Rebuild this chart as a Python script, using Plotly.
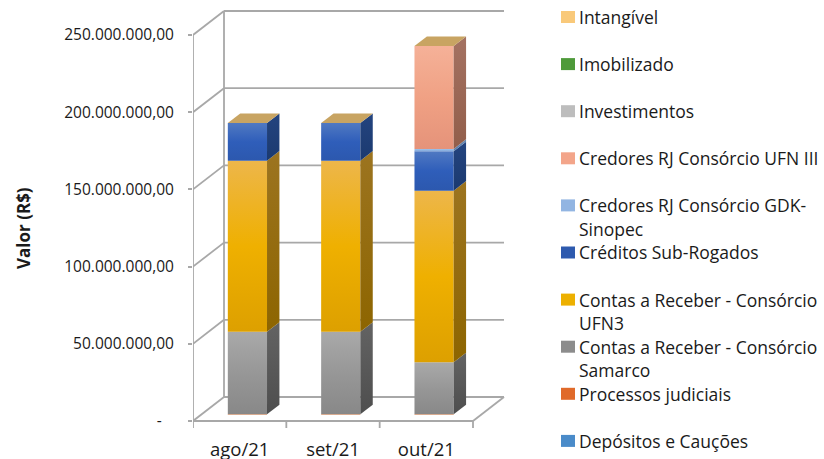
import plotly.graph_objects as go

# ---------------- data ----------------
months = ["ago/21", "set/21", "out/21"]
series_names = [
    "Depósitos e Cauções",
    "Processos judiciais",
    "Contas a Receber - Consórcio Samarco",
    "Contas a Receber - Consórcio UFN3",
    "Créditos Sub-Rogados",
    "Credores RJ Consórcio GDK-Sinopec",
    "Credores RJ Consórcio UFN III",
    "Investimentos",
    "Imobilizado",
    "Intangível",
]
depositos = [0, 0, 0]
processos = [500_000, 500_000, 500_000]
samarco = [53_400_000, 53_400_000, 33_600_000]
ufn3 = [110_800_000, 110_800_000, 111_200_000]
creditos = [24_400_000, 24_400_000, 25_500_000]
gdk = [0, 0, 1_500_000]
ufn_iii = [0, 0, 66_700_000]
investimentos = [0, 0, 0]
imobilizado = [0, 0, 0]
intangivel = [0, 0, 0]
series_values = [depositos, processos, samarco, ufn3, creditos, gdk, ufn_iii,
                 investimentos, imobilizado, intangivel]

y_tick_vals = [0, 50e6, 100e6, 150e6, 200e6, 250e6]
y_tick_text = ["-\u00a0\u00a0\u00a0", "50.000.000,00", "100.000.000,00", "150.000.000,00",
               "200.000.000,00", "250.000.000,00"]

# legend order (top to bottom) and wrapping as in the picture
legend_lines = [
    ("Intangível", None),
    ("Imobilizado", None),
    ("Investimentos", None),
    ("Credores RJ Consórcio UFN III", None),
    ("Credores RJ Consórcio GDK-", "Sinopec"),
    ("Créditos Sub-Rogados", None),
    ("Contas a Receber - Consórcio", "UFN3"),
    ("Contas a Receber - Consórcio", "Samarco"),
    ("Processos judiciais", None),
    ("Depósitos e Cauções", None),
]

# ---------------- styles ----------------
# front gradient (bottom, middle, top), side gradient (bottom, top), legend colour
styles = {
    "Depósitos e Cauções": (("#3F7DBA", "#4A8BC9", "#6FA3D6"), ("#2A5884", "#33689A"), "#4A8BC9"),
    "Processos judiciais": (("#F0A070", "#F0A070", "#F0A070"), ("#D27A40", "#D27A40"), "#E06A2A"),
    "Contas a Receber - Consórcio Samarco": (("#888888", "#979797", "#A9A9A9"), ("#4E4E4E", "#636363"), "#8C8C8C"),
    "Contas a Receber - Consórcio UFN3": (("#DDA000", "#EFB000", "#EDB64A"), ("#8D6500", "#9C7420"), "#EDB000"),
    "Créditos Sub-Rogados": (("#2C58AE", "#2F5EBA", "#5079C2"), ("#1B3A70", "#24447F"), "#2E5AAE"),
    "Credores RJ Consórcio GDK-Sinopec": (("#86ACDD", "#8DB3E2", "#A4C3EA"), ("#5A7CA8", "#6688B2"), "#92B5E2"),
    "Credores RJ Consórcio UFN III": (("#E5937A", "#F0A184", "#F5B198"), ("#925E4A", "#A47262"), "#F3A58A"),
    "Investimentos": (("#AAAAAA", "#BDBDBD", "#CFCFCF"), ("#707070", "#808080"), "#BDBDBD"),
    "Imobilizado": (("#45892F", "#4E9A3A", "#6AAE55"), ("#2E5E20", "#386C28"), "#4E9A3A"),
    "Intangível": (("#F5C070", "#F9C97A", "#FCD898"), ("#A88440", "#B8944E"), "#F9C97A"),
}
top_face_color = "#C8A462"
grid_color = "#A8A8A8"
text_color = "#1A1A1A"
font_family = "Open Sans"

# ---------------- geometry (pixel calibration) ----------------
W, H = 824, 459
left_px, right_px = 193, 530
top_px, bottom_px = 5, 430
front_left_px, front_right_px = 193, 473
zero_px, top_tick_px = 421, 35
VPX = 250e6 / (zero_px - top_tick_px)       # value per pixel
XPX = 3.0 / (front_right_px - front_left_px)  # category units per pixel
DX = 31 * XPX        # depth vector (full depth)
DY = 24 * VPX
x_range = [0, (right_px - left_px) * XPX]
y_range = [-(bottom_px - zero_px) * VPX, (zero_px - top_px) * VPX]

F0, F1 = 0.25, 0.65   # bar front / back depth fraction
HW = 0.21             # half width of bar


def P(x, v, f):
    return x + f * DX, v + f * DY


fig = go.Figure()


def poly(points, colors=None, solid=None):
    xs = [p[0] for p in points] + [points[0][0]]
    ys = [p[1] for p in points] + [points[0][1]]
    kw = dict(x=xs, y=ys, mode="lines", fill="toself", line=dict(width=0),
              hoverinfo="skip", showlegend=False)
    if colors is not None:
        if len(colors) == 3:
            cs = [[0, colors[0]], [0.5, colors[1]], [1, colors[2]]]
        else:
            cs = [[0, colors[0]], [1, colors[1]]]
        kw["fillgradient"] = dict(type="vertical", colorscale=cs)
        kw["fillcolor"] = colors[1]
    else:
        kw["fillcolor"] = solid
    fig.add_trace(go.Scatter(**kw))


def lines(segs, color=grid_color, width=1.8):
    xs, ys = [], []
    for a, b in segs:
        xs += [a[0], b[0], None]
        ys += [a[1], b[1], None]
    fig.add_trace(go.Scatter(x=xs, y=ys, mode="lines", line=dict(color=color, width=width),
                             hoverinfo="skip", showlegend=False))


# walls, floor and grid
n = len(months)
segs = []
for v in y_tick_vals:
    segs.append((P(0, v, 0), P(0, v, 1)))
    segs.append((P(0, v, 1), P(n, v, 1)))
segs.append((P(0, 0, 0), P(0, y_tick_vals[-1], 0)))
segs.append((P(0, 0, 1), P(0, y_tick_vals[-1], 1)))
segs.append((P(0, 0, 0), P(n, 0, 0)))
segs.append((P(n, 0, 0), P(n, 0, 1)))
tick_len = 7 * VPX
for k in range(n + 1):
    segs.append(((k, 0), (k, -tick_len)))
lines(segs)

# bars
for i in range(n):
    c = i + 0.5
    base = 0.0
    for name, vals in zip(series_names, series_values):
        v = vals[i]
        if v <= 0:
            continue
        front, side, _ = styles[name]
        v0, v1 = base, base + v
        poly([P(c - HW, v0, F0), P(c + HW, v0, F0), P(c + HW, v1, F0), P(c - HW, v1, F0)], colors=front)
        poly([P(c + HW, v0, F0), P(c + HW, v0, F1), P(c + HW, v1, F1), P(c + HW, v1, F0)], colors=side)
        base = v1
    poly([P(c - HW, base, F0), P(c + HW, base, F0), P(c + HW, base, F1), P(c - HW, base, F1)],
         solid=top_face_color)


# ---------------- legend (manual, as in the picture) ----------------
def px_to_paper_x(px):
    return (px - left_px) / (right_px - left_px)


def px_to_paper_y(py):
    return (bottom_px - py) / (bottom_px - top_px)


shapes = []
annotations = []
legend_font = dict(family=font_family, size=17.5, color=text_color)
for idx, (l1, l2) in enumerate(legend_lines):
    yc = 17 + idx * 47.1
    full = l1 if l2 is None else (l1 + l2 if l1.endswith("-") else l1 + " " + l2)
    col = styles[full][2]
    shapes.append(dict(type="rect", xref="paper", yref="paper",
                       x0=px_to_paper_x(561), x1=px_to_paper_x(575),
                       y0=px_to_paper_y(yc + 6), y1=px_to_paper_y(yc - 6),
                       fillcolor=col, line=dict(width=0)))
    annotations.append(dict(text=l1, xref="paper", yref="paper", x=px_to_paper_x(577),
                            y=px_to_paper_y(yc), xanchor="left", yanchor="middle",
                            showarrow=False, font=legend_font))
    if l2:
        annotations.append(dict(text=l2, xref="paper", yref="paper", x=px_to_paper_x(577),
                                y=px_to_paper_y(yc + 23.5), xanchor="left", yanchor="middle",
                                showarrow=False, font=legend_font))

annotations.append(dict(text="<b>Valor (R$)</b>", xref="paper", yref="paper",
                        x=px_to_paper_x(24), y=px_to_paper_y(228), xanchor="center", yanchor="middle",
                        textangle=-90, showarrow=False,
                        font=dict(family=font_family, size=17, color=text_color)))

fig.update_layout(
    width=W, height=H,
    margin=dict(l=left_px, r=W - right_px, t=top_px, b=H - bottom_px, autoexpand=False),
    paper_bgcolor="white", plot_bgcolor="white",
    showlegend=False,
    shapes=shapes, annotations=annotations,
    xaxis=dict(range=x_range, showgrid=False, zeroline=False, showline=False, automargin=False,
               tickvals=[k + 0.5 for k in range(n)], ticktext=months, ticks="",
               ticklabelstandoff=6,
               tickfont=dict(family=font_family, size=18.5, color=text_color), fixedrange=True),
    yaxis=dict(range=y_range, showgrid=False, zeroline=False, showline=False, automargin=False,
               tickvals=y_tick_vals, ticktext=y_tick_text, ticks="outside", ticklen=4,
               tickcolor=grid_color, tickwidth=1.5, ticklabelstandoff=11,
               tickfont=dict(family=font_family, size=15.5, color=text_color), fixedrange=True),
)

fig.write_html("out.html", config={"displayModeBar": False},
               post_script="document.body.style.margin='0px';")
